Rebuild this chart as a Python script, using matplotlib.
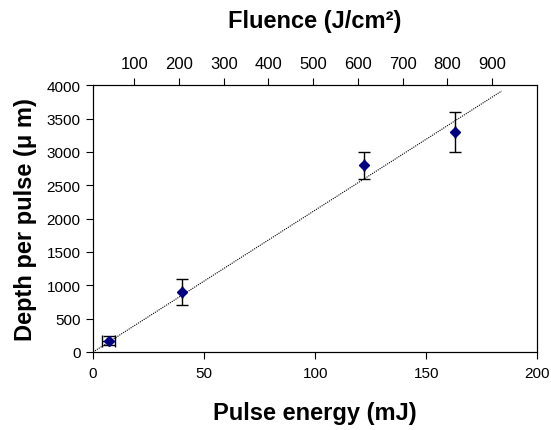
import matplotlib
matplotlib.use("Agg")
import matplotlib.pyplot as plt
import numpy as np

plt.rcParams['font.family'] = ['Liberation Sans', 'DejaVu Sans']

# data
energy = [7, 40, 122, 163]          # mJ
depth = [170, 900, 2800, 3300]      # um
depth_err = [70, 200, 200, 300]
energy_err = [3, 0, 0, 0]
fit_end = 184                       # trend line runs 0..fit_end mJ
top_ticks = [100, 200, 300, 400, 500, 600, 700, 800, 900]

slope = np.sum(np.array(energy) * np.array(depth)) / np.sum(np.array(energy) ** 2)

fig = plt.figure(figsize=(5.51, 4.31), dpi=100)
ax = fig.add_axes([0.169, 0.181, 0.806, 0.619])

xf = np.array([0, fit_end])
ax.plot(xf, slope * xf, color='black', linestyle=(0, (1, 1)), linewidth=0.8)
ax.errorbar(energy, depth, yerr=depth_err, xerr=energy_err, fmt='D', color='#000080',
            markersize=5.5, ecolor='black', elinewidth=1, capsize=4, capthick=1)

ax.set_xlim(0, 200)
ax.set_ylim(0, 4000)
ax.set_xticks([0, 50, 100, 150, 200])
ax.set_yticks(range(0, 4001, 500))
ax.tick_params(axis='both', direction='out', length=5, labelsize=11)
ax.tick_params(axis='x', pad=5)
ax.tick_params(axis='y', pad=4)
ax.set_xlabel('Pulse energy (mJ)', fontsize=17, fontweight='bold', labelpad=15)
ax.set_ylabel('Depth per pulse (\u03bc m)', fontsize=17, fontweight='bold', labelpad=7)

# secondary fluence axis (independent scale, as in the original)
top = ax.twiny()
top.set_xlim(8, 1001)
top.set_xticks(top_ticks)
top.tick_params(axis='x', direction='out', length=5, labelsize=12, pad=5)
top.set_xlabel('Fluence (J/cm\u00b2)', fontsize=17, fontweight='bold', labelpad=21)

fig.savefig('out.png', dpi=100)
